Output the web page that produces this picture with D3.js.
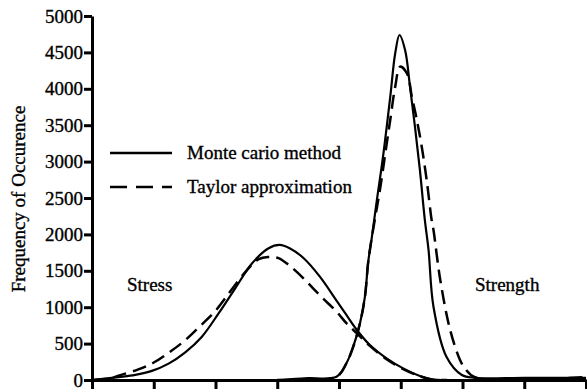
<!DOCTYPE html>
<html>
<head>
<meta charset="utf-8">
<script src="https://cdn.jsdelivr.net/npm/d3@7"></script>
<style>
body { margin: 0; background: #fff; }
svg text { font-family: "Liberation Serif", "Times New Roman", serif; fill: #000; stroke: #000; stroke-width: 0.35px; }
.axis path, .axis line { stroke: #000; stroke-width: 3; }
.axis text { font-size: 19px; font-family: "Liberation Serif", serif; }
</style>
</head>
<body>
<div id="content"></div>
<script>
// x in tick units (0..8), y = frequency of occurence
var STRESS_MC_X = [0, 0.43, 0.7, 0.97, 1.24, 1.51, 1.78, 2.05, 2.32, 2.59, 2.86, 3.04, 3.2, 3.42, 3.69, 3.96, 4.12, 4.29, 4.50, 4.77, 5.04, 5.31, 5.5, 5.75];
var STRESS_MC_Y = [0, 40, 70, 125, 225, 380, 595, 915, 1260, 1600, 1810, 1855, 1810, 1680, 1420, 1090, 893, 687, 480, 298, 160, 55, 10, 0];

var STRESS_TA_X = [0, 0.29, 0.43, 0.75, 1.0, 1.25, 1.5, 1.75, 2.0, 2.25, 2.5, 2.7, 2.85, 3.02, 3.2, 3.42, 3.58, 3.74, 3.96, 4.12, 4.29, 4.50, 4.77, 5.04, 5.31, 5.5, 5.75];
var STRESS_TA_Y = [0, 20, 60, 145, 240, 380, 540, 740, 950, 1230, 1500, 1660, 1690, 1675, 1570, 1400, 1260, 1120, 940, 780, 640, 470, 285, 150, 52, 8, 0];

var STRENGTH_MC_X = [3.0, 3.3, 3.5, 3.96, 4.12, 4.23, 4.34, 4.42, 4.47, 4.50, 4.53, 4.61, 4.72, 4.83, 4.91, 4.98, 5.07, 5.15, 5.23, 5.31, 5.39, 5.45, 5.53, 5.74, 5.99, 6.2, 7, 8];
var STRENGTH_MC_Y = [0, 15, 25, 45, 230, 457, 780, 1145, 1600, 1786, 1950, 2450, 3114, 3890, 4487, 4739, 4533, 4029, 3480, 2885, 2200, 1786, 1007, 320, 69, 30, 30, 30];

var STRENGTH_TA_X = [3.0, 3.96, 4.12, 4.23, 4.34, 4.42, 4.47, 4.50, 4.53, 4.61, 4.67, 4.75, 4.83, 4.91, 4.99, 5.1, 5.18, 5.26, 5.34, 5.42, 5.5, 5.53, 5.64, 5.80, 5.96, 6.04, 6.2, 8];
var STRENGTH_TA_Y = [0, 45, 230, 457, 780, 1145, 1600, 1786, 1950, 2350, 2650, 3114, 3575, 4029, 4304, 4212, 3890, 3575, 3205, 2747, 2198, 2060, 1374, 687, 275, 160, 40, 40];

var Y_TICKS = [0, 500, 1000, 1500, 2000, 2500, 3000, 3500, 4000, 4500, 5000];
var X_TICKS = [0, 1, 2, 3, 4, 5, 6, 7, 8];

var SERIES = [
    {name: 'Monte cario method', dash: null},
    {name: 'Taylor approximation', dash: '14,7'}
];

function zip(xs, ys) {
    return xs.map(function (v, i) {return {x: v, y: ys[i]};});
}

var width = 587;
var height = 392;

var svg = d3.select('#content')
.append('svg')
.attr('width', width)
.attr('height', height);

var xScale = d3.scaleLinear()
.domain([0, 8])
.range([92, 586]);

var yScale = d3.scaleLinear()
.domain([0, 5000])
.range([380, 16]);

var yAxis = d3.axisLeft(yScale)
.tickValues(Y_TICKS)
.tickSize(8)
.tickSizeOuter(0)
.tickPadding(1)
.tickFormat(d3.format('d'));

svg.append('g')
.attr('class', 'axis y-axis')
.attr('transform', 'translate(' + xScale(0) + ', 0)')
.call(yAxis)
.attr('font-family', null)
.attr('font-size', null);

var xAxis = d3.axisBottom(xScale)
.tickValues(X_TICKS)
.tickSize(9)
.tickSizeOuter(0)
.tickFormat('');

svg.append('g')
.attr('class', 'axis x-axis')
.attr('transform', 'translate(0, ' + yScale(0) + ')')
.call(xAxis);

svg.append('text')
.attr('transform', 'translate(25, 199) rotate(-90)')
.attr('text-anchor', 'middle')
.style('font-size', '19px')
.text('Frequency of Occurence');

var line = d3.line()
.x(function (d) {return xScale(d.x);})
.y(function (d) {return yScale(d.y);})
.curve(d3.curveCatmullRom.alpha(0.5));

var curves = [
    {data: zip(STRESS_MC_X, STRESS_MC_Y), dash: SERIES[0].dash},
    {data: zip(STRESS_TA_X, STRESS_TA_Y), dash: SERIES[1].dash},
    {data: zip(STRENGTH_MC_X, STRENGTH_MC_Y), dash: SERIES[0].dash},
    {data: zip(STRENGTH_TA_X, STRENGTH_TA_Y), dash: SERIES[1].dash}
];

svg.selectAll('.curve')
.data(curves)
.enter()
.append('path')
.attr('class', 'curve')
.attr('fill', 'none')
.attr('stroke', '#000')
.attr('stroke-width', function (c) {return c.dash ? 2.5 : 2.2;})
.attr('stroke-dasharray', function (c) {return c.dash;})
.attr('d', function (c) {return line(c.data);});

// legend
var legend = svg.selectAll('.legend')
.data(SERIES)
.enter()
.append('g')
.attr('class', 'legend')
.attr('transform', function (s, i) {return 'translate(110, ' + (153 + i * 34) + ')';});

legend.append('line')
.attr('x1', 0)
.attr('x2', 62)
.attr('stroke', '#000')
.attr('stroke-width', 2.5)
.attr('stroke-dasharray', function (s) {return s.dash ? '17,9' : null;});

legend.append('text')
.attr('x', 77)
.attr('y', 6)
.style('font-size', '19px')
.text(function (s) {return s.name;});

svg.append('text')
.attr('x', 127)
.attr('y', 291)
.style('font-size', '19px')
.text('Stress');

svg.append('text')
.attr('x', 475)
.attr('y', 291)
.style('font-size', '19px')
.text('Strength');
</script>
</body>
</html>
